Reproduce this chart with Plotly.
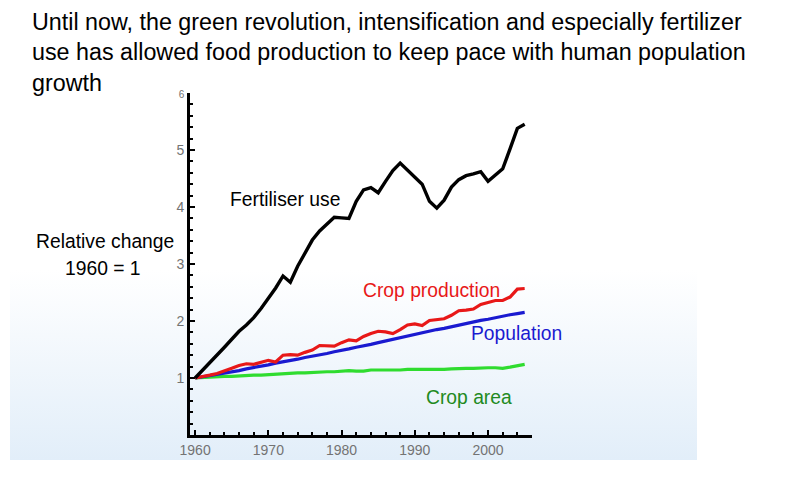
import base64
import plotly.graph_objects as go

# ---------------- data ----------------
years = list(range(1960, 2006))

fertiliser = [1.00, 1.13, 1.26, 1.40, 1.54, 1.68, 1.82, 1.93, 2.06, 2.22,
              2.40, 2.58, 2.79, 2.68, 2.96, 3.20, 3.42, 3.58, 3.70, 3.82,
              3.81, 3.80, 4.10, 4.30, 4.34, 4.25, 4.45, 4.64, 4.77, 4.65,
              4.52, 4.40, 4.10, 3.98, 4.12, 4.35, 4.48, 4.55, 4.58, 4.62,
              4.45, 4.56, 4.67, 5.02, 5.38, 5.45]

crop_production = [1.00, 1.02, 1.05, 1.08, 1.12, 1.17, 1.22, 1.25, 1.24, 1.27,
                   1.31, 1.28, 1.40, 1.41, 1.40, 1.45, 1.49, 1.57, 1.57, 1.56,
                   1.62, 1.67, 1.65, 1.73, 1.78, 1.82, 1.81, 1.78, 1.85, 1.93,
                   1.95, 1.92, 2.01, 2.02, 2.04, 2.10, 2.18, 2.19, 2.21, 2.29,
                   2.33, 2.36, 2.36, 2.42, 2.56, 2.57]

population = [1.00, 1.02, 1.04, 1.06, 1.08, 1.11, 1.13, 1.16, 1.18, 1.21,
              1.23, 1.26, 1.28, 1.31, 1.33, 1.36, 1.38, 1.41, 1.43, 1.46,
              1.48, 1.51, 1.54, 1.56, 1.59, 1.62, 1.65, 1.68, 1.71, 1.73,
              1.76, 1.79, 1.82, 1.85, 1.87, 1.90, 1.93, 1.95, 1.98, 2.01,
              2.03, 2.06, 2.08, 2.11, 2.13, 2.15]

crop_area = [1.00, 1.01, 1.02, 1.02, 1.03, 1.03, 1.04, 1.04, 1.05, 1.05,
             1.06, 1.06, 1.08, 1.08, 1.09, 1.09, 1.10, 1.10, 1.11, 1.11,
             1.12, 1.13, 1.12, 1.12, 1.14, 1.14, 1.13, 1.13, 1.14, 1.15,
             1.15, 1.15, 1.14, 1.15, 1.15, 1.16, 1.17, 1.17, 1.17, 1.18,
             1.18, 1.18, 1.17, 1.19, 1.22, 1.24]

x_tick_vals = [1960, 1970, 1980, 1990, 2000]
y_tick_vals = [1, 2, 3, 4, 5, 6]
y_tick_text = ["1", "2", "3", "4", "5", "<span style='font-size:10px'>6</span>"]

title_lines = [
    "Until now, the green revolution, intensification and especially fertilizer",
    "use has allowed food production to keep pace with human population",
    "growth",
]

# ---------------- layout geometry ----------------
W, H = 787, 481
L, R, T, B = 190, 255, 93, 46
PW, PH = W - L - R, H - T - B


def px(x):
    return (x - L) / PW


def py(y):
    return (H - B - y) / PH


fig = go.Figure()

series = [
    ("Crop area", crop_area, "#2fdc2f"),
    ("Population", population, "#1a1ad0"),
    ("Crop production", crop_production, "#e81818"),
    ("Fertiliser use", fertiliser, "#000000"),
]
for name, vals, col in series:
    fig.add_trace(go.Scatter(x=years, y=vals, mode="lines", name=name,
                             line=dict(color=col, width=3.4 if col == "#000000" else 3.2)))

fig.update_xaxes(range=[1959.3, 2006], showline=True, linewidth=3, linecolor="black",
                 showgrid=False, zeroline=False, tickvals=x_tick_vals,
                 ticks="inside", ticklen=5, tickwidth=1.5, tickcolor="black",
                 minor=dict(dtick=2, tick0=1960, ticks="inside", ticklen=3,
                            tickwidth=1.5, tickcolor="black"),
                 tickfont=dict(family="Liberation Sans, Arial, sans-serif", size=14,
                               color="#737373"))
fig.update_yaxes(range=[0, 6], showline=True, linewidth=3, linecolor="black",
                 showgrid=False, zeroline=False, tickvals=y_tick_vals,
                 ticktext=y_tick_text,
                 ticks="inside", ticklen=5, tickwidth=1.5, tickcolor="black",
                 minor=dict(dtick=0.2, tick0=0, ticks="inside", ticklen=3,
                            tickwidth=1.5, tickcolor="black"),
                 tickfont=dict(family="Liberation Sans, Arial, sans-serif", size=14,
                               color="#737373"))

ann_font = "Liberation Sans, Arial, sans-serif"
labels = [
    ("Fertiliser use", 228, 199, "left", "#000000"),
    ("Crop production", 361, 290, "left", "#e81818"),
    ("Population", 469, 333, "left", "#1a1ad0"),
    ("Crop area", 424, 397, "left", "#218a21"),
    ("Relative change", 104.5, 242, "center", "#000000"),
    ("1960 = 1", 103.5, 268, "center", "#000000"),
]
annotations = []
for text, x, y, anchor, col in labels:
    annotations.append(dict(text=text, x=px(x), y=py(y), xref="paper", yref="paper",
                            xanchor=anchor, yanchor="middle", showarrow=False,
                            font=dict(family=ann_font, size=19.3, color=col)))
for line, y in zip(title_lines, [22, 52, 83]):
    annotations.append(dict(text=line, x=px(29.5), y=py(y), xref="paper", yref="paper",
                            xanchor="left", yanchor="middle", showarrow=False,
                            font=dict(family=ann_font, size=23.3, color="#000000")))

svg = ("<svg xmlns='http://www.w3.org/2000/svg' width='100' height='100' preserveAspectRatio='none'>"
       "<defs><linearGradient id='g' x1='0' y1='0' x2='0' y2='1'>"
       "<stop offset='0' stop-color='#ffffff'/><stop offset='1' stop-color='#e2eef9'/>"
       "</linearGradient></defs><rect width='100' height='100' fill='url(#g)'/></svg>")
src = "data:image/svg+xml;base64," + base64.b64encode(svg.encode()).decode()

fig.add_layout_image(dict(source=src, xref="paper", yref="paper",
                          x=px(10), y=py(270), sizex=(697 - 10) / PW, sizey=(460 - 270) / PH,
                          xanchor="left", yanchor="top", sizing="stretch", layer="below"))

fig.update_layout(width=W, height=H, margin=dict(l=L, r=R, t=T, b=B),
                  paper_bgcolor="white", plot_bgcolor="rgba(0,0,0,0)",
                  showlegend=False, annotations=annotations)

fig.write_html("out.html")
